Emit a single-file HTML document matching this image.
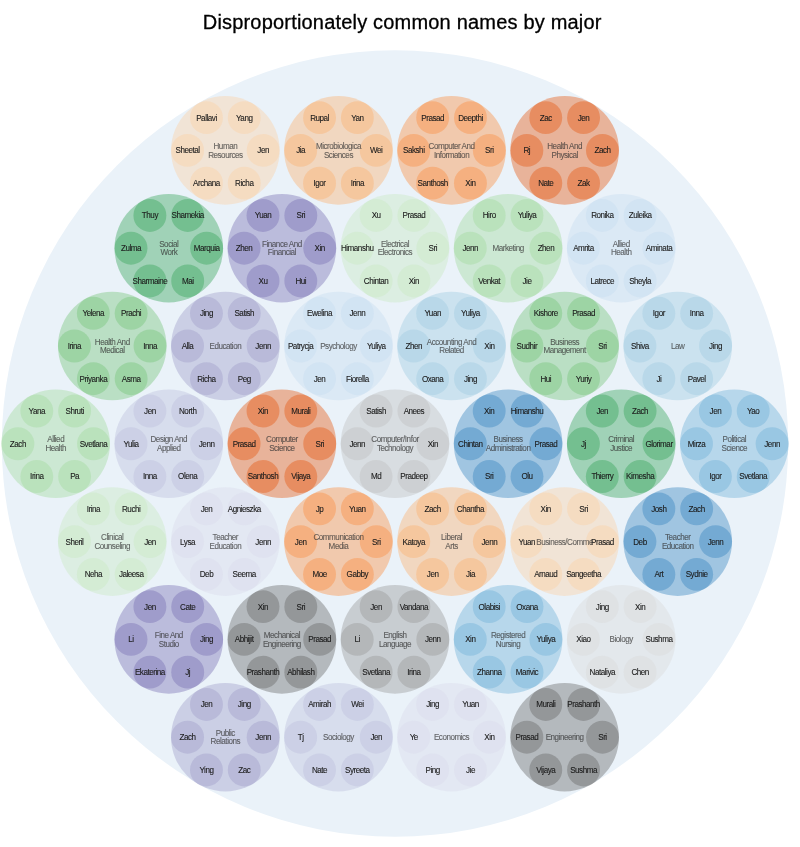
<!DOCTYPE html>
<html><head><meta charset="utf-8"><title>Disproportionately common names by major</title>
<style>
html,body{margin:0;padding:0;background:#fff;}
body{width:800px;height:847px;overflow:hidden;font-family:"Liberation Sans",sans-serif;}
svg{display:block;}
text{font-family:"Liberation Sans",sans-serif;text-anchor:middle;}
.t{font-size:20px;fill:#000;stroke:#000;stroke-width:.3px;letter-spacing:0.19px;}
.n{font-size:8.1px;fill:#1c1c1c;stroke:#1c1c1c;stroke-width:.1px;letter-spacing:-0.47px;}
.m{font-size:8.1px;fill:#333;fill-opacity:.72;stroke:#333;stroke-opacity:.5;stroke-width:.15px;letter-spacing:-0.47px;}
</style></head><body>
<svg width="800" height="847" viewBox="0 0 800 847">
<text class="t" x="402.2" y="29">Disproportionately common names by major</text>
<circle cx="395.0" cy="443.5" r="393.2" fill="#eaf2f9"/>
<g fill="#fdd0a2"><circle cx="225.35" cy="150.40" r="54.3" fill-opacity="0.4"/>
<circle cx="206.45" cy="117.66" r="16.45" fill-opacity="0.4"/>
<circle cx="244.25" cy="117.66" r="16.45" fill-opacity="0.4"/>
<circle cx="263.15" cy="150.40" r="16.45" fill-opacity="0.4"/>
<circle cx="244.25" cy="183.14" r="16.45" fill-opacity="0.4"/>
<circle cx="206.45" cy="183.14" r="16.45" fill-opacity="0.4"/>
<circle cx="187.55" cy="150.40" r="16.45" fill-opacity="0.4"/>
</g>
<g fill="#fdae6b"><circle cx="338.45" cy="150.40" r="54.3" fill-opacity="0.4"/>
<circle cx="319.55" cy="117.66" r="16.45" fill-opacity="0.4"/>
<circle cx="357.35" cy="117.66" r="16.45" fill-opacity="0.4"/>
<circle cx="376.25" cy="150.40" r="16.45" fill-opacity="0.4"/>
<circle cx="357.35" cy="183.14" r="16.45" fill-opacity="0.4"/>
<circle cx="319.55" cy="183.14" r="16.45" fill-opacity="0.4"/>
<circle cx="300.65" cy="150.40" r="16.45" fill-opacity="0.4"/>
</g>
<g fill="#fd8d3c"><circle cx="451.55" cy="150.40" r="54.3" fill-opacity="0.4"/>
<circle cx="432.65" cy="117.66" r="16.45" fill-opacity="0.4"/>
<circle cx="470.45" cy="117.66" r="16.45" fill-opacity="0.4"/>
<circle cx="489.35" cy="150.40" r="16.45" fill-opacity="0.4"/>
<circle cx="470.45" cy="183.14" r="16.45" fill-opacity="0.4"/>
<circle cx="432.65" cy="183.14" r="16.45" fill-opacity="0.4"/>
<circle cx="413.75" cy="150.40" r="16.45" fill-opacity="0.4"/>
</g>
<g fill="#e6550d"><circle cx="564.65" cy="150.40" r="54.3" fill-opacity="0.4"/>
<circle cx="545.75" cy="117.66" r="16.45" fill-opacity="0.4"/>
<circle cx="583.55" cy="117.66" r="16.45" fill-opacity="0.4"/>
<circle cx="602.45" cy="150.40" r="16.45" fill-opacity="0.4"/>
<circle cx="583.55" cy="183.14" r="16.45" fill-opacity="0.4"/>
<circle cx="545.75" cy="183.14" r="16.45" fill-opacity="0.4"/>
<circle cx="526.85" cy="150.40" r="16.45" fill-opacity="0.4"/>
</g>
<g fill="#31a354"><circle cx="168.80" cy="248.20" r="54.3" fill-opacity="0.4"/>
<circle cx="149.90" cy="215.46" r="16.45" fill-opacity="0.4"/>
<circle cx="187.70" cy="215.46" r="16.45" fill-opacity="0.4"/>
<circle cx="206.60" cy="248.20" r="16.45" fill-opacity="0.4"/>
<circle cx="187.70" cy="280.94" r="16.45" fill-opacity="0.4"/>
<circle cx="149.90" cy="280.94" r="16.45" fill-opacity="0.4"/>
<circle cx="131.00" cy="248.20" r="16.45" fill-opacity="0.4"/>
</g>
<g fill="#756bb1"><circle cx="281.90" cy="248.20" r="54.3" fill-opacity="0.4"/>
<circle cx="263.00" cy="215.46" r="16.45" fill-opacity="0.4"/>
<circle cx="300.80" cy="215.46" r="16.45" fill-opacity="0.4"/>
<circle cx="319.70" cy="248.20" r="16.45" fill-opacity="0.4"/>
<circle cx="300.80" cy="280.94" r="16.45" fill-opacity="0.4"/>
<circle cx="263.00" cy="280.94" r="16.45" fill-opacity="0.4"/>
<circle cx="244.10" cy="248.20" r="16.45" fill-opacity="0.4"/>
</g>
<g fill="#c7e9c0"><circle cx="395.00" cy="248.20" r="54.3" fill-opacity="0.4"/>
<circle cx="376.10" cy="215.46" r="16.45" fill-opacity="0.4"/>
<circle cx="413.90" cy="215.46" r="16.45" fill-opacity="0.4"/>
<circle cx="432.80" cy="248.20" r="16.45" fill-opacity="0.4"/>
<circle cx="413.90" cy="280.94" r="16.45" fill-opacity="0.4"/>
<circle cx="376.10" cy="280.94" r="16.45" fill-opacity="0.4"/>
<circle cx="357.20" cy="248.20" r="16.45" fill-opacity="0.4"/>
</g>
<g fill="#a1d99b"><circle cx="508.10" cy="248.20" r="54.3" fill-opacity="0.4"/>
<circle cx="489.20" cy="215.46" r="16.45" fill-opacity="0.4"/>
<circle cx="527.00" cy="215.46" r="16.45" fill-opacity="0.4"/>
<circle cx="545.90" cy="248.20" r="16.45" fill-opacity="0.4"/>
<circle cx="527.00" cy="280.94" r="16.45" fill-opacity="0.4"/>
<circle cx="489.20" cy="280.94" r="16.45" fill-opacity="0.4"/>
<circle cx="470.30" cy="248.20" r="16.45" fill-opacity="0.4"/>
</g>
<g fill="#c6dbef"><circle cx="621.20" cy="248.20" r="54.3" fill-opacity="0.4"/>
<circle cx="602.30" cy="215.46" r="16.45" fill-opacity="0.4"/>
<circle cx="640.10" cy="215.46" r="16.45" fill-opacity="0.4"/>
<circle cx="659.00" cy="248.20" r="16.45" fill-opacity="0.4"/>
<circle cx="640.10" cy="280.94" r="16.45" fill-opacity="0.4"/>
<circle cx="602.30" cy="280.94" r="16.45" fill-opacity="0.4"/>
<circle cx="583.40" cy="248.20" r="16.45" fill-opacity="0.4"/>
</g>
<g fill="#74c476"><circle cx="112.25" cy="346.00" r="54.3" fill-opacity="0.4"/>
<circle cx="93.35" cy="313.26" r="16.45" fill-opacity="0.4"/>
<circle cx="131.15" cy="313.26" r="16.45" fill-opacity="0.4"/>
<circle cx="150.05" cy="346.00" r="16.45" fill-opacity="0.4"/>
<circle cx="131.15" cy="378.74" r="16.45" fill-opacity="0.4"/>
<circle cx="93.35" cy="378.74" r="16.45" fill-opacity="0.4"/>
<circle cx="74.45" cy="346.00" r="16.45" fill-opacity="0.4"/>
</g>
<g fill="#9e9ac8"><circle cx="225.35" cy="346.00" r="54.3" fill-opacity="0.4"/>
<circle cx="206.45" cy="313.26" r="16.45" fill-opacity="0.4"/>
<circle cx="244.25" cy="313.26" r="16.45" fill-opacity="0.4"/>
<circle cx="263.15" cy="346.00" r="16.45" fill-opacity="0.4"/>
<circle cx="244.25" cy="378.74" r="16.45" fill-opacity="0.4"/>
<circle cx="206.45" cy="378.74" r="16.45" fill-opacity="0.4"/>
<circle cx="187.55" cy="346.00" r="16.45" fill-opacity="0.4"/>
</g>
<g fill="#c6dbef"><circle cx="338.45" cy="346.00" r="54.3" fill-opacity="0.4"/>
<circle cx="319.55" cy="313.26" r="16.45" fill-opacity="0.4"/>
<circle cx="357.35" cy="313.26" r="16.45" fill-opacity="0.4"/>
<circle cx="376.25" cy="346.00" r="16.45" fill-opacity="0.4"/>
<circle cx="357.35" cy="378.74" r="16.45" fill-opacity="0.4"/>
<circle cx="319.55" cy="378.74" r="16.45" fill-opacity="0.4"/>
<circle cx="300.65" cy="346.00" r="16.45" fill-opacity="0.4"/>
</g>
<g fill="#9ecae1"><circle cx="451.55" cy="346.00" r="54.3" fill-opacity="0.4"/>
<circle cx="432.65" cy="313.26" r="16.45" fill-opacity="0.4"/>
<circle cx="470.45" cy="313.26" r="16.45" fill-opacity="0.4"/>
<circle cx="489.35" cy="346.00" r="16.45" fill-opacity="0.4"/>
<circle cx="470.45" cy="378.74" r="16.45" fill-opacity="0.4"/>
<circle cx="432.65" cy="378.74" r="16.45" fill-opacity="0.4"/>
<circle cx="413.75" cy="346.00" r="16.45" fill-opacity="0.4"/>
</g>
<g fill="#74c476"><circle cx="564.65" cy="346.00" r="54.3" fill-opacity="0.4"/>
<circle cx="545.75" cy="313.26" r="16.45" fill-opacity="0.4"/>
<circle cx="583.55" cy="313.26" r="16.45" fill-opacity="0.4"/>
<circle cx="602.45" cy="346.00" r="16.45" fill-opacity="0.4"/>
<circle cx="583.55" cy="378.74" r="16.45" fill-opacity="0.4"/>
<circle cx="545.75" cy="378.74" r="16.45" fill-opacity="0.4"/>
<circle cx="526.85" cy="346.00" r="16.45" fill-opacity="0.4"/>
</g>
<g fill="#9ecae1"><circle cx="677.75" cy="346.00" r="54.3" fill-opacity="0.4"/>
<circle cx="658.85" cy="313.26" r="16.45" fill-opacity="0.4"/>
<circle cx="696.65" cy="313.26" r="16.45" fill-opacity="0.4"/>
<circle cx="715.55" cy="346.00" r="16.45" fill-opacity="0.4"/>
<circle cx="696.65" cy="378.74" r="16.45" fill-opacity="0.4"/>
<circle cx="658.85" cy="378.74" r="16.45" fill-opacity="0.4"/>
<circle cx="639.95" cy="346.00" r="16.45" fill-opacity="0.4"/>
</g>
<g fill="#a1d99b"><circle cx="55.70" cy="443.80" r="54.3" fill-opacity="0.4"/>
<circle cx="36.80" cy="411.06" r="16.45" fill-opacity="0.4"/>
<circle cx="74.60" cy="411.06" r="16.45" fill-opacity="0.4"/>
<circle cx="93.50" cy="443.80" r="16.45" fill-opacity="0.4"/>
<circle cx="74.60" cy="476.54" r="16.45" fill-opacity="0.4"/>
<circle cx="36.80" cy="476.54" r="16.45" fill-opacity="0.4"/>
<circle cx="17.90" cy="443.80" r="16.45" fill-opacity="0.4"/>
</g>
<g fill="#bcbddc"><circle cx="168.80" cy="443.80" r="54.3" fill-opacity="0.4"/>
<circle cx="149.90" cy="411.06" r="16.45" fill-opacity="0.4"/>
<circle cx="187.70" cy="411.06" r="16.45" fill-opacity="0.4"/>
<circle cx="206.60" cy="443.80" r="16.45" fill-opacity="0.4"/>
<circle cx="187.70" cy="476.54" r="16.45" fill-opacity="0.4"/>
<circle cx="149.90" cy="476.54" r="16.45" fill-opacity="0.4"/>
<circle cx="131.00" cy="443.80" r="16.45" fill-opacity="0.4"/>
</g>
<g fill="#e6550d"><circle cx="281.90" cy="443.80" r="54.3" fill-opacity="0.4"/>
<circle cx="263.00" cy="411.06" r="16.45" fill-opacity="0.4"/>
<circle cx="300.80" cy="411.06" r="16.45" fill-opacity="0.4"/>
<circle cx="319.70" cy="443.80" r="16.45" fill-opacity="0.4"/>
<circle cx="300.80" cy="476.54" r="16.45" fill-opacity="0.4"/>
<circle cx="263.00" cy="476.54" r="16.45" fill-opacity="0.4"/>
<circle cx="244.10" cy="443.80" r="16.45" fill-opacity="0.4"/>
</g>
<g fill="#bdbdbd"><circle cx="395.00" cy="443.80" r="54.3" fill-opacity="0.4"/>
<circle cx="376.10" cy="411.06" r="16.45" fill-opacity="0.4"/>
<circle cx="413.90" cy="411.06" r="16.45" fill-opacity="0.4"/>
<circle cx="432.80" cy="443.80" r="16.45" fill-opacity="0.4"/>
<circle cx="413.90" cy="476.54" r="16.45" fill-opacity="0.4"/>
<circle cx="376.10" cy="476.54" r="16.45" fill-opacity="0.4"/>
<circle cx="357.20" cy="443.80" r="16.45" fill-opacity="0.4"/>
</g>
<g fill="#3182bd"><circle cx="508.10" cy="443.80" r="54.3" fill-opacity="0.4"/>
<circle cx="489.20" cy="411.06" r="16.45" fill-opacity="0.4"/>
<circle cx="527.00" cy="411.06" r="16.45" fill-opacity="0.4"/>
<circle cx="545.90" cy="443.80" r="16.45" fill-opacity="0.4"/>
<circle cx="527.00" cy="476.54" r="16.45" fill-opacity="0.4"/>
<circle cx="489.20" cy="476.54" r="16.45" fill-opacity="0.4"/>
<circle cx="470.30" cy="443.80" r="16.45" fill-opacity="0.4"/>
</g>
<g fill="#31a354"><circle cx="621.20" cy="443.80" r="54.3" fill-opacity="0.4"/>
<circle cx="602.30" cy="411.06" r="16.45" fill-opacity="0.4"/>
<circle cx="640.10" cy="411.06" r="16.45" fill-opacity="0.4"/>
<circle cx="659.00" cy="443.80" r="16.45" fill-opacity="0.4"/>
<circle cx="640.10" cy="476.54" r="16.45" fill-opacity="0.4"/>
<circle cx="602.30" cy="476.54" r="16.45" fill-opacity="0.4"/>
<circle cx="583.40" cy="443.80" r="16.45" fill-opacity="0.4"/>
</g>
<g fill="#6baed6"><circle cx="734.30" cy="443.80" r="54.3" fill-opacity="0.4"/>
<circle cx="715.40" cy="411.06" r="16.45" fill-opacity="0.4"/>
<circle cx="753.20" cy="411.06" r="16.45" fill-opacity="0.4"/>
<circle cx="772.10" cy="443.80" r="16.45" fill-opacity="0.4"/>
<circle cx="753.20" cy="476.54" r="16.45" fill-opacity="0.4"/>
<circle cx="715.40" cy="476.54" r="16.45" fill-opacity="0.4"/>
<circle cx="696.50" cy="443.80" r="16.45" fill-opacity="0.4"/>
</g>
<g fill="#c7e9c0"><circle cx="112.25" cy="541.60" r="54.3" fill-opacity="0.4"/>
<circle cx="93.35" cy="508.86" r="16.45" fill-opacity="0.4"/>
<circle cx="131.15" cy="508.86" r="16.45" fill-opacity="0.4"/>
<circle cx="150.05" cy="541.60" r="16.45" fill-opacity="0.4"/>
<circle cx="131.15" cy="574.34" r="16.45" fill-opacity="0.4"/>
<circle cx="93.35" cy="574.34" r="16.45" fill-opacity="0.4"/>
<circle cx="74.45" cy="541.60" r="16.45" fill-opacity="0.4"/>
</g>
<g fill="#dadaeb"><circle cx="225.35" cy="541.60" r="54.3" fill-opacity="0.4"/>
<circle cx="206.45" cy="508.86" r="16.45" fill-opacity="0.4"/>
<circle cx="244.25" cy="508.86" r="16.45" fill-opacity="0.4"/>
<circle cx="263.15" cy="541.60" r="16.45" fill-opacity="0.4"/>
<circle cx="244.25" cy="574.34" r="16.45" fill-opacity="0.4"/>
<circle cx="206.45" cy="574.34" r="16.45" fill-opacity="0.4"/>
<circle cx="187.55" cy="541.60" r="16.45" fill-opacity="0.4"/>
</g>
<g fill="#fd8d3c"><circle cx="338.45" cy="541.60" r="54.3" fill-opacity="0.4"/>
<circle cx="319.55" cy="508.86" r="16.45" fill-opacity="0.4"/>
<circle cx="357.35" cy="508.86" r="16.45" fill-opacity="0.4"/>
<circle cx="376.25" cy="541.60" r="16.45" fill-opacity="0.4"/>
<circle cx="357.35" cy="574.34" r="16.45" fill-opacity="0.4"/>
<circle cx="319.55" cy="574.34" r="16.45" fill-opacity="0.4"/>
<circle cx="300.65" cy="541.60" r="16.45" fill-opacity="0.4"/>
</g>
<g fill="#fdae6b"><circle cx="451.55" cy="541.60" r="54.3" fill-opacity="0.4"/>
<circle cx="432.65" cy="508.86" r="16.45" fill-opacity="0.4"/>
<circle cx="470.45" cy="508.86" r="16.45" fill-opacity="0.4"/>
<circle cx="489.35" cy="541.60" r="16.45" fill-opacity="0.4"/>
<circle cx="470.45" cy="574.34" r="16.45" fill-opacity="0.4"/>
<circle cx="432.65" cy="574.34" r="16.45" fill-opacity="0.4"/>
<circle cx="413.75" cy="541.60" r="16.45" fill-opacity="0.4"/>
</g>
<g fill="#fdd0a2"><circle cx="564.65" cy="541.60" r="54.3" fill-opacity="0.4"/>
<circle cx="545.75" cy="508.86" r="16.45" fill-opacity="0.4"/>
<circle cx="583.55" cy="508.86" r="16.45" fill-opacity="0.4"/>
<circle cx="602.45" cy="541.60" r="16.45" fill-opacity="0.4"/>
<circle cx="583.55" cy="574.34" r="16.45" fill-opacity="0.4"/>
<circle cx="545.75" cy="574.34" r="16.45" fill-opacity="0.4"/>
<circle cx="526.85" cy="541.60" r="16.45" fill-opacity="0.4"/>
</g>
<g fill="#3182bd"><circle cx="677.75" cy="541.60" r="54.3" fill-opacity="0.4"/>
<circle cx="658.85" cy="508.86" r="16.45" fill-opacity="0.4"/>
<circle cx="696.65" cy="508.86" r="16.45" fill-opacity="0.4"/>
<circle cx="715.55" cy="541.60" r="16.45" fill-opacity="0.4"/>
<circle cx="696.65" cy="574.34" r="16.45" fill-opacity="0.4"/>
<circle cx="658.85" cy="574.34" r="16.45" fill-opacity="0.4"/>
<circle cx="639.95" cy="541.60" r="16.45" fill-opacity="0.4"/>
</g>
<g fill="#756bb1"><circle cx="168.80" cy="639.40" r="54.3" fill-opacity="0.4"/>
<circle cx="149.90" cy="606.66" r="16.45" fill-opacity="0.4"/>
<circle cx="187.70" cy="606.66" r="16.45" fill-opacity="0.4"/>
<circle cx="206.60" cy="639.40" r="16.45" fill-opacity="0.4"/>
<circle cx="187.70" cy="672.14" r="16.45" fill-opacity="0.4"/>
<circle cx="149.90" cy="672.14" r="16.45" fill-opacity="0.4"/>
<circle cx="131.00" cy="639.40" r="16.45" fill-opacity="0.4"/>
</g>
<g fill="#636363"><circle cx="281.90" cy="639.40" r="54.3" fill-opacity="0.4"/>
<circle cx="263.00" cy="606.66" r="16.45" fill-opacity="0.4"/>
<circle cx="300.80" cy="606.66" r="16.45" fill-opacity="0.4"/>
<circle cx="319.70" cy="639.40" r="16.45" fill-opacity="0.4"/>
<circle cx="300.80" cy="672.14" r="16.45" fill-opacity="0.4"/>
<circle cx="263.00" cy="672.14" r="16.45" fill-opacity="0.4"/>
<circle cx="244.10" cy="639.40" r="16.45" fill-opacity="0.4"/>
</g>
<g fill="#969696"><circle cx="395.00" cy="639.40" r="54.3" fill-opacity="0.4"/>
<circle cx="376.10" cy="606.66" r="16.45" fill-opacity="0.4"/>
<circle cx="413.90" cy="606.66" r="16.45" fill-opacity="0.4"/>
<circle cx="432.80" cy="639.40" r="16.45" fill-opacity="0.4"/>
<circle cx="413.90" cy="672.14" r="16.45" fill-opacity="0.4"/>
<circle cx="376.10" cy="672.14" r="16.45" fill-opacity="0.4"/>
<circle cx="357.20" cy="639.40" r="16.45" fill-opacity="0.4"/>
</g>
<g fill="#6baed6"><circle cx="508.10" cy="639.40" r="54.3" fill-opacity="0.4"/>
<circle cx="489.20" cy="606.66" r="16.45" fill-opacity="0.4"/>
<circle cx="527.00" cy="606.66" r="16.45" fill-opacity="0.4"/>
<circle cx="545.90" cy="639.40" r="16.45" fill-opacity="0.4"/>
<circle cx="527.00" cy="672.14" r="16.45" fill-opacity="0.4"/>
<circle cx="489.20" cy="672.14" r="16.45" fill-opacity="0.4"/>
<circle cx="470.30" cy="639.40" r="16.45" fill-opacity="0.4"/>
</g>
<g fill="#d9d9d9"><circle cx="621.20" cy="639.40" r="54.3" fill-opacity="0.4"/>
<circle cx="602.30" cy="606.66" r="16.45" fill-opacity="0.4"/>
<circle cx="640.10" cy="606.66" r="16.45" fill-opacity="0.4"/>
<circle cx="659.00" cy="639.40" r="16.45" fill-opacity="0.4"/>
<circle cx="640.10" cy="672.14" r="16.45" fill-opacity="0.4"/>
<circle cx="602.30" cy="672.14" r="16.45" fill-opacity="0.4"/>
<circle cx="583.40" cy="639.40" r="16.45" fill-opacity="0.4"/>
</g>
<g fill="#9e9ac8"><circle cx="225.35" cy="737.20" r="54.3" fill-opacity="0.4"/>
<circle cx="206.45" cy="704.46" r="16.45" fill-opacity="0.4"/>
<circle cx="244.25" cy="704.46" r="16.45" fill-opacity="0.4"/>
<circle cx="263.15" cy="737.20" r="16.45" fill-opacity="0.4"/>
<circle cx="244.25" cy="769.94" r="16.45" fill-opacity="0.4"/>
<circle cx="206.45" cy="769.94" r="16.45" fill-opacity="0.4"/>
<circle cx="187.55" cy="737.20" r="16.45" fill-opacity="0.4"/>
</g>
<g fill="#bcbddc"><circle cx="338.45" cy="737.20" r="54.3" fill-opacity="0.4"/>
<circle cx="319.55" cy="704.46" r="16.45" fill-opacity="0.4"/>
<circle cx="357.35" cy="704.46" r="16.45" fill-opacity="0.4"/>
<circle cx="376.25" cy="737.20" r="16.45" fill-opacity="0.4"/>
<circle cx="357.35" cy="769.94" r="16.45" fill-opacity="0.4"/>
<circle cx="319.55" cy="769.94" r="16.45" fill-opacity="0.4"/>
<circle cx="300.65" cy="737.20" r="16.45" fill-opacity="0.4"/>
</g>
<g fill="#dadaeb"><circle cx="451.55" cy="737.20" r="54.3" fill-opacity="0.4"/>
<circle cx="432.65" cy="704.46" r="16.45" fill-opacity="0.4"/>
<circle cx="470.45" cy="704.46" r="16.45" fill-opacity="0.4"/>
<circle cx="489.35" cy="737.20" r="16.45" fill-opacity="0.4"/>
<circle cx="470.45" cy="769.94" r="16.45" fill-opacity="0.4"/>
<circle cx="432.65" cy="769.94" r="16.45" fill-opacity="0.4"/>
<circle cx="413.75" cy="737.20" r="16.45" fill-opacity="0.4"/>
</g>
<g fill="#636363"><circle cx="564.65" cy="737.20" r="54.3" fill-opacity="0.4"/>
<circle cx="545.75" cy="704.46" r="16.45" fill-opacity="0.4"/>
<circle cx="583.55" cy="704.46" r="16.45" fill-opacity="0.4"/>
<circle cx="602.45" cy="737.20" r="16.45" fill-opacity="0.4"/>
<circle cx="583.55" cy="769.94" r="16.45" fill-opacity="0.4"/>
<circle cx="545.75" cy="769.94" r="16.45" fill-opacity="0.4"/>
<circle cx="526.85" cy="737.20" r="16.45" fill-opacity="0.4"/>
</g>
<text class="n" transform="translate(206.45 120.56) scale(1.0 1.12)">Pallavi</text>
<text class="n" transform="translate(244.25 120.56) scale(1.0 1.12)">Yang</text>
<text class="n" transform="translate(263.15 153.30) scale(1.0 1.12)">Jen</text>
<text class="n" transform="translate(244.25 186.04) scale(1.0 1.12)">Richa</text>
<text class="n" transform="translate(206.45 186.04) scale(1.0 1.12)">Archana</text>
<text class="n" transform="translate(187.55 153.30) scale(1.0 1.12)">Sheetal</text>
<text class="m" transform="translate(225.35 149.05) scale(1.0 1.12)">Human</text>
<text class="m" transform="translate(225.35 157.55) scale(1.0 1.12)">Resources</text>
<text class="n" transform="translate(319.55 120.56) scale(1.0 1.12)">Rupal</text>
<text class="n" transform="translate(357.35 120.56) scale(1.0 1.12)">Yan</text>
<text class="n" transform="translate(376.25 153.30) scale(1.0 1.12)">Wei</text>
<text class="n" transform="translate(357.35 186.04) scale(1.0 1.12)">Irina</text>
<text class="n" transform="translate(319.55 186.04) scale(1.0 1.12)">Igor</text>
<text class="n" transform="translate(300.65 153.30) scale(1.0 1.12)">Jia</text>
<text class="m" transform="translate(338.45 149.05) scale(1.0 1.12)">Microbiologica</text>
<text class="m" transform="translate(338.45 157.55) scale(1.0 1.12)">Sciences</text>
<text class="n" transform="translate(432.65 120.56) scale(1.0 1.12)">Prasad</text>
<text class="n" transform="translate(470.45 120.56) scale(1.0 1.12)">Deepthi</text>
<text class="n" transform="translate(489.35 153.30) scale(1.0 1.12)">Sri</text>
<text class="n" transform="translate(470.45 186.04) scale(1.0 1.12)">Xin</text>
<text class="n" transform="translate(432.65 186.04) scale(1.0 1.12)">Santhosh</text>
<text class="n" transform="translate(413.75 153.30) scale(1.0 1.12)">Sakshi</text>
<text class="m" transform="translate(451.55 149.05) scale(1.0 1.12)">Computer And</text>
<text class="m" transform="translate(451.55 157.55) scale(1.0 1.12)">Information</text>
<text class="n" transform="translate(545.75 120.56) scale(1.0 1.12)">Zac</text>
<text class="n" transform="translate(583.55 120.56) scale(1.0 1.12)">Jen</text>
<text class="n" transform="translate(602.45 153.30) scale(1.0 1.12)">Zach</text>
<text class="n" transform="translate(583.55 186.04) scale(1.0 1.12)">Zak</text>
<text class="n" transform="translate(545.75 186.04) scale(1.0 1.12)">Nate</text>
<text class="n" transform="translate(526.85 153.30) scale(1.0 1.12)">Rj</text>
<text class="m" transform="translate(564.65 149.05) scale(1.0 1.12)">Health And</text>
<text class="m" transform="translate(564.65 157.55) scale(1.0 1.12)">Physical</text>
<text class="n" transform="translate(149.90 218.36) scale(1.0 1.12)">Thuy</text>
<text class="n" transform="translate(187.70 218.36) scale(1.0 1.12)">Shamekia</text>
<text class="n" transform="translate(206.60 251.10) scale(1.0 1.12)">Marquia</text>
<text class="n" transform="translate(187.70 283.84) scale(1.0 1.12)">Mai</text>
<text class="n" transform="translate(149.90 283.84) scale(1.0 1.12)">Sharmaine</text>
<text class="n" transform="translate(131.00 251.10) scale(1.0 1.12)">Zulma</text>
<text class="m" transform="translate(168.80 246.85) scale(1.0 1.12)">Social</text>
<text class="m" transform="translate(168.80 255.35) scale(1.0 1.12)">Work</text>
<text class="n" transform="translate(263.00 218.36) scale(1.0 1.12)">Yuan</text>
<text class="n" transform="translate(300.80 218.36) scale(1.0 1.12)">Sri</text>
<text class="n" transform="translate(319.70 251.10) scale(1.0 1.12)">Xin</text>
<text class="n" transform="translate(300.80 283.84) scale(1.0 1.12)">Hui</text>
<text class="n" transform="translate(263.00 283.84) scale(1.0 1.12)">Xu</text>
<text class="n" transform="translate(244.10 251.10) scale(1.0 1.12)">Zhen</text>
<text class="m" transform="translate(281.90 246.85) scale(1.0 1.12)">Finance And</text>
<text class="m" transform="translate(281.90 255.35) scale(1.0 1.12)">Financial</text>
<text class="n" transform="translate(376.10 218.36) scale(1.0 1.12)">Xu</text>
<text class="n" transform="translate(413.90 218.36) scale(1.0 1.12)">Prasad</text>
<text class="n" transform="translate(432.80 251.10) scale(1.0 1.12)">Sri</text>
<text class="n" transform="translate(413.90 283.84) scale(1.0 1.12)">Xin</text>
<text class="n" transform="translate(376.10 283.84) scale(1.0 1.12)">Chintan</text>
<text class="n" transform="translate(357.20 251.10) scale(1.0 1.12)">Himanshu</text>
<text class="m" transform="translate(395.00 246.85) scale(1.0 1.12)">Electrical</text>
<text class="m" transform="translate(395.00 255.35) scale(1.0 1.12)">Electronics</text>
<text class="n" transform="translate(489.20 218.36) scale(1.0 1.12)">Hiro</text>
<text class="n" transform="translate(527.00 218.36) scale(1.0 1.12)">Yuliya</text>
<text class="n" transform="translate(545.90 251.10) scale(1.0 1.12)">Zhen</text>
<text class="n" transform="translate(527.00 283.84) scale(1.0 1.12)">Jie</text>
<text class="n" transform="translate(489.20 283.84) scale(1.0 1.12)">Venkat</text>
<text class="n" transform="translate(470.30 251.10) scale(1.0 1.12)">Jenn</text>
<text class="m" transform="translate(508.10 251.10) scale(1.0 1.12)">Marketing</text>
<text class="n" transform="translate(602.30 218.36) scale(1.0 1.12)">Ronika</text>
<text class="n" transform="translate(640.10 218.36) scale(1.0 1.12)">Zuleika</text>
<text class="n" transform="translate(659.00 251.10) scale(1.0 1.12)">Aminata</text>
<text class="n" transform="translate(640.10 283.84) scale(1.0 1.12)">Sheyla</text>
<text class="n" transform="translate(602.30 283.84) scale(1.0 1.12)">Latrece</text>
<text class="n" transform="translate(583.40 251.10) scale(1.0 1.12)">Amrita</text>
<text class="m" transform="translate(621.20 246.85) scale(1.0 1.12)">Allied</text>
<text class="m" transform="translate(621.20 255.35) scale(1.0 1.12)">Health</text>
<text class="n" transform="translate(93.35 316.16) scale(1.0 1.12)">Yelena</text>
<text class="n" transform="translate(131.15 316.16) scale(1.0 1.12)">Prachi</text>
<text class="n" transform="translate(150.05 348.90) scale(1.0 1.12)">Inna</text>
<text class="n" transform="translate(131.15 381.64) scale(1.0 1.12)">Asma</text>
<text class="n" transform="translate(93.35 381.64) scale(1.0 1.12)">Priyanka</text>
<text class="n" transform="translate(74.45 348.90) scale(1.0 1.12)">Irina</text>
<text class="m" transform="translate(112.25 344.65) scale(1.0 1.12)">Health And</text>
<text class="m" transform="translate(112.25 353.15) scale(1.0 1.12)">Medical</text>
<text class="n" transform="translate(206.45 316.16) scale(1.0 1.12)">Jing</text>
<text class="n" transform="translate(244.25 316.16) scale(1.0 1.12)">Satish</text>
<text class="n" transform="translate(263.15 348.90) scale(1.0 1.12)">Jenn</text>
<text class="n" transform="translate(244.25 381.64) scale(1.0 1.12)">Peg</text>
<text class="n" transform="translate(206.45 381.64) scale(1.0 1.12)">Richa</text>
<text class="n" transform="translate(187.55 348.90) scale(1.0 1.12)">Alla</text>
<text class="m" transform="translate(225.35 348.90) scale(1.0 1.12)">Education</text>
<text class="n" transform="translate(319.55 316.16) scale(1.0 1.12)">Ewelina</text>
<text class="n" transform="translate(357.35 316.16) scale(1.0 1.12)">Jenn</text>
<text class="n" transform="translate(376.25 348.90) scale(1.0 1.12)">Yuliya</text>
<text class="n" transform="translate(357.35 381.64) scale(1.0 1.12)">Fiorella</text>
<text class="n" transform="translate(319.55 381.64) scale(1.0 1.12)">Jen</text>
<text class="n" transform="translate(300.65 348.90) scale(1.0 1.12)">Patrycja</text>
<text class="m" transform="translate(338.45 348.90) scale(1.0 1.12)">Psychology</text>
<text class="n" transform="translate(432.65 316.16) scale(1.0 1.12)">Yuan</text>
<text class="n" transform="translate(470.45 316.16) scale(1.0 1.12)">Yuliya</text>
<text class="n" transform="translate(489.35 348.90) scale(1.0 1.12)">Xin</text>
<text class="n" transform="translate(470.45 381.64) scale(1.0 1.12)">Jing</text>
<text class="n" transform="translate(432.65 381.64) scale(1.0 1.12)">Oxana</text>
<text class="n" transform="translate(413.75 348.90) scale(1.0 1.12)">Zhen</text>
<text class="m" transform="translate(451.55 344.65) scale(1.0 1.12)">Accounting And</text>
<text class="m" transform="translate(451.55 353.15) scale(1.0 1.12)">Related</text>
<text class="n" transform="translate(545.75 316.16) scale(1.0 1.12)">Kishore</text>
<text class="n" transform="translate(583.55 316.16) scale(1.0 1.12)">Prasad</text>
<text class="n" transform="translate(602.45 348.90) scale(1.0 1.12)">Sri</text>
<text class="n" transform="translate(583.55 381.64) scale(1.0 1.12)">Yuriy</text>
<text class="n" transform="translate(545.75 381.64) scale(1.0 1.12)">Hui</text>
<text class="n" transform="translate(526.85 348.90) scale(1.0 1.12)">Sudhir</text>
<text class="m" transform="translate(564.65 344.65) scale(1.0 1.12)">Business</text>
<text class="m" transform="translate(564.65 353.15) scale(1.0 1.12)">Management</text>
<text class="n" transform="translate(658.85 316.16) scale(1.0 1.12)">Igor</text>
<text class="n" transform="translate(696.65 316.16) scale(1.0 1.12)">Inna</text>
<text class="n" transform="translate(715.55 348.90) scale(1.0 1.12)">Jing</text>
<text class="n" transform="translate(696.65 381.64) scale(1.0 1.12)">Pavel</text>
<text class="n" transform="translate(658.85 381.64) scale(1.0 1.12)">Ji</text>
<text class="n" transform="translate(639.95 348.90) scale(1.0 1.12)">Shiva</text>
<text class="m" transform="translate(677.75 348.90) scale(1.0 1.12)">Law</text>
<text class="n" transform="translate(36.80 413.96) scale(1.0 1.12)">Yana</text>
<text class="n" transform="translate(74.60 413.96) scale(1.0 1.12)">Shruti</text>
<text class="n" transform="translate(93.50 446.70) scale(1.0 1.12)">Svetlana</text>
<text class="n" transform="translate(74.60 479.44) scale(1.0 1.12)">Pa</text>
<text class="n" transform="translate(36.80 479.44) scale(1.0 1.12)">Irina</text>
<text class="n" transform="translate(17.90 446.70) scale(1.0 1.12)">Zach</text>
<text class="m" transform="translate(55.70 442.45) scale(1.0 1.12)">Allied</text>
<text class="m" transform="translate(55.70 450.95) scale(1.0 1.12)">Health</text>
<text class="n" transform="translate(149.90 413.96) scale(1.0 1.12)">Jen</text>
<text class="n" transform="translate(187.70 413.96) scale(1.0 1.12)">North</text>
<text class="n" transform="translate(206.60 446.70) scale(1.0 1.12)">Jenn</text>
<text class="n" transform="translate(187.70 479.44) scale(1.0 1.12)">Olena</text>
<text class="n" transform="translate(149.90 479.44) scale(1.0 1.12)">Inna</text>
<text class="n" transform="translate(131.00 446.70) scale(1.0 1.12)">Yulia</text>
<text class="m" transform="translate(168.80 442.45) scale(1.0 1.12)">Design And</text>
<text class="m" transform="translate(168.80 450.95) scale(1.0 1.12)">Applied</text>
<text class="n" transform="translate(263.00 413.96) scale(1.0 1.12)">Xin</text>
<text class="n" transform="translate(300.80 413.96) scale(1.0 1.12)">Murali</text>
<text class="n" transform="translate(319.70 446.70) scale(1.0 1.12)">Sri</text>
<text class="n" transform="translate(300.80 479.44) scale(1.0 1.12)">Vijaya</text>
<text class="n" transform="translate(263.00 479.44) scale(1.0 1.12)">Santhosh</text>
<text class="n" transform="translate(244.10 446.70) scale(1.0 1.12)">Prasad</text>
<text class="m" transform="translate(281.90 442.45) scale(1.0 1.12)">Computer</text>
<text class="m" transform="translate(281.90 450.95) scale(1.0 1.12)">Science</text>
<text class="n" transform="translate(376.10 413.96) scale(1.0 1.12)">Satish</text>
<text class="n" transform="translate(413.90 413.96) scale(1.0 1.12)">Anees</text>
<text class="n" transform="translate(432.80 446.70) scale(1.0 1.12)">Xin</text>
<text class="n" transform="translate(413.90 479.44) scale(1.0 1.12)">Pradeep</text>
<text class="n" transform="translate(376.10 479.44) scale(1.0 1.12)">Md</text>
<text class="n" transform="translate(357.20 446.70) scale(1.0 1.12)">Jenn</text>
<text class="m" transform="translate(395.00 442.45) scale(1.0 1.12)">Computer/Infor</text>
<text class="m" transform="translate(395.00 450.95) scale(1.0 1.12)">Technology</text>
<text class="n" transform="translate(489.20 413.96) scale(1.0 1.12)">Xin</text>
<text class="n" transform="translate(527.00 413.96) scale(1.0 1.12)">Himanshu</text>
<text class="n" transform="translate(545.90 446.70) scale(1.0 1.12)">Prasad</text>
<text class="n" transform="translate(527.00 479.44) scale(1.0 1.12)">Olu</text>
<text class="n" transform="translate(489.20 479.44) scale(1.0 1.12)">Sri</text>
<text class="n" transform="translate(470.30 446.70) scale(1.0 1.12)">Chintan</text>
<text class="m" transform="translate(508.10 442.45) scale(1.0 1.12)">Business</text>
<text class="m" transform="translate(508.10 450.95) scale(1.0 1.12)">Administration</text>
<text class="n" transform="translate(602.30 413.96) scale(1.0 1.12)">Jen</text>
<text class="n" transform="translate(640.10 413.96) scale(1.0 1.12)">Zach</text>
<text class="n" transform="translate(659.00 446.70) scale(1.0 1.12)">Glorimar</text>
<text class="n" transform="translate(640.10 479.44) scale(1.0 1.12)">Kimesha</text>
<text class="n" transform="translate(602.30 479.44) scale(1.0 1.12)">Thierry</text>
<text class="n" transform="translate(583.40 446.70) scale(1.0 1.12)">Jj</text>
<text class="m" transform="translate(621.20 442.45) scale(1.0 1.12)">Criminal</text>
<text class="m" transform="translate(621.20 450.95) scale(1.0 1.12)">Justice</text>
<text class="n" transform="translate(715.40 413.96) scale(1.0 1.12)">Jen</text>
<text class="n" transform="translate(753.20 413.96) scale(1.0 1.12)">Yao</text>
<text class="n" transform="translate(772.10 446.70) scale(1.0 1.12)">Jenn</text>
<text class="n" transform="translate(753.20 479.44) scale(1.0 1.12)">Svetlana</text>
<text class="n" transform="translate(715.40 479.44) scale(1.0 1.12)">Igor</text>
<text class="n" transform="translate(696.50 446.70) scale(1.0 1.12)">Mirza</text>
<text class="m" transform="translate(734.30 442.45) scale(1.0 1.12)">Political</text>
<text class="m" transform="translate(734.30 450.95) scale(1.0 1.12)">Science</text>
<text class="n" transform="translate(93.35 511.76) scale(1.0 1.12)">Irina</text>
<text class="n" transform="translate(131.15 511.76) scale(1.0 1.12)">Ruchi</text>
<text class="n" transform="translate(150.05 544.50) scale(1.0 1.12)">Jen</text>
<text class="n" transform="translate(131.15 577.24) scale(1.0 1.12)">Jaleesa</text>
<text class="n" transform="translate(93.35 577.24) scale(1.0 1.12)">Neha</text>
<text class="n" transform="translate(74.45 544.50) scale(1.0 1.12)">Sheril</text>
<text class="m" transform="translate(112.25 540.25) scale(1.0 1.12)">Clinical</text>
<text class="m" transform="translate(112.25 548.75) scale(1.0 1.12)">Counseling</text>
<text class="n" transform="translate(206.45 511.76) scale(1.0 1.12)">Jen</text>
<text class="n" transform="translate(244.25 511.76) scale(1.0 1.12)">Agnieszka</text>
<text class="n" transform="translate(263.15 544.50) scale(1.0 1.12)">Jenn</text>
<text class="n" transform="translate(244.25 577.24) scale(1.0 1.12)">Seema</text>
<text class="n" transform="translate(206.45 577.24) scale(1.0 1.12)">Deb</text>
<text class="n" transform="translate(187.55 544.50) scale(1.0 1.12)">Lysa</text>
<text class="m" transform="translate(225.35 540.25) scale(1.0 1.12)">Teacher</text>
<text class="m" transform="translate(225.35 548.75) scale(1.0 1.12)">Education</text>
<text class="n" transform="translate(319.55 511.76) scale(1.0 1.12)">Jp</text>
<text class="n" transform="translate(357.35 511.76) scale(1.0 1.12)">Yuan</text>
<text class="n" transform="translate(376.25 544.50) scale(1.0 1.12)">Sri</text>
<text class="n" transform="translate(357.35 577.24) scale(1.0 1.12)">Gabby</text>
<text class="n" transform="translate(319.55 577.24) scale(1.0 1.12)">Moe</text>
<text class="n" transform="translate(300.65 544.50) scale(1.0 1.12)">Jen</text>
<text class="m" transform="translate(338.45 540.25) scale(1.0 1.12)">Communication</text>
<text class="m" transform="translate(338.45 548.75) scale(1.0 1.12)">Media</text>
<text class="n" transform="translate(432.65 511.76) scale(1.0 1.12)">Zach</text>
<text class="n" transform="translate(470.45 511.76) scale(1.0 1.12)">Chantha</text>
<text class="n" transform="translate(489.35 544.50) scale(1.0 1.12)">Jenn</text>
<text class="n" transform="translate(470.45 577.24) scale(1.0 1.12)">Jia</text>
<text class="n" transform="translate(432.65 577.24) scale(1.0 1.12)">Jen</text>
<text class="n" transform="translate(413.75 544.50) scale(1.0 1.12)">Katoya</text>
<text class="m" transform="translate(451.55 540.25) scale(1.0 1.12)">Liberal</text>
<text class="m" transform="translate(451.55 548.75) scale(1.0 1.12)">Arts</text>
<text class="n" transform="translate(545.75 511.76) scale(1.0 1.12)">Xin</text>
<text class="n" transform="translate(583.55 511.76) scale(1.0 1.12)">Sri</text>
<text class="n" transform="translate(602.45 544.50) scale(1.0 1.12)">Prasad</text>
<text class="n" transform="translate(583.55 577.24) scale(1.0 1.12)">Sangeetha</text>
<text class="n" transform="translate(545.75 577.24) scale(1.0 1.12)">Arnaud</text>
<text class="n" transform="translate(526.85 544.50) scale(1.0 1.12)">Yuan</text>
<text class="m" transform="translate(564.65 544.50) scale(1.0 1.12)">Business/Comme</text>
<text class="n" transform="translate(658.85 511.76) scale(1.0 1.12)">Josh</text>
<text class="n" transform="translate(696.65 511.76) scale(1.0 1.12)">Zach</text>
<text class="n" transform="translate(715.55 544.50) scale(1.0 1.12)">Jenn</text>
<text class="n" transform="translate(696.65 577.24) scale(1.0 1.12)">Sydnie</text>
<text class="n" transform="translate(658.85 577.24) scale(1.0 1.12)">Art</text>
<text class="n" transform="translate(639.95 544.50) scale(1.0 1.12)">Deb</text>
<text class="m" transform="translate(677.75 540.25) scale(1.0 1.12)">Teacher</text>
<text class="m" transform="translate(677.75 548.75) scale(1.0 1.12)">Education</text>
<text class="n" transform="translate(149.90 609.56) scale(1.0 1.12)">Jen</text>
<text class="n" transform="translate(187.70 609.56) scale(1.0 1.12)">Cate</text>
<text class="n" transform="translate(206.60 642.30) scale(1.0 1.12)">Jing</text>
<text class="n" transform="translate(187.70 675.04) scale(1.0 1.12)">Jj</text>
<text class="n" transform="translate(149.90 675.04) scale(1.0 1.12)">Ekaterina</text>
<text class="n" transform="translate(131.00 642.30) scale(1.0 1.12)">Li</text>
<text class="m" transform="translate(168.80 638.05) scale(1.0 1.12)">Fine And</text>
<text class="m" transform="translate(168.80 646.55) scale(1.0 1.12)">Studio</text>
<text class="n" transform="translate(263.00 609.56) scale(1.0 1.12)">Xin</text>
<text class="n" transform="translate(300.80 609.56) scale(1.0 1.12)">Sri</text>
<text class="n" transform="translate(319.70 642.30) scale(1.0 1.12)">Prasad</text>
<text class="n" transform="translate(300.80 675.04) scale(1.0 1.12)">Abhilash</text>
<text class="n" transform="translate(263.00 675.04) scale(1.0 1.12)">Prashanth</text>
<text class="n" transform="translate(244.10 642.30) scale(1.0 1.12)">Abhijit</text>
<text class="m" transform="translate(281.90 638.05) scale(1.0 1.12)">Mechanical</text>
<text class="m" transform="translate(281.90 646.55) scale(1.0 1.12)">Engineering</text>
<text class="n" transform="translate(376.10 609.56) scale(1.0 1.12)">Jen</text>
<text class="n" transform="translate(413.90 609.56) scale(1.0 1.12)">Vandana</text>
<text class="n" transform="translate(432.80 642.30) scale(1.0 1.12)">Jenn</text>
<text class="n" transform="translate(413.90 675.04) scale(1.0 1.12)">Irina</text>
<text class="n" transform="translate(376.10 675.04) scale(1.0 1.12)">Svetlana</text>
<text class="n" transform="translate(357.20 642.30) scale(1.0 1.12)">Li</text>
<text class="m" transform="translate(395.00 638.05) scale(1.0 1.12)">English</text>
<text class="m" transform="translate(395.00 646.55) scale(1.0 1.12)">Language</text>
<text class="n" transform="translate(489.20 609.56) scale(1.0 1.12)">Olabisi</text>
<text class="n" transform="translate(527.00 609.56) scale(1.0 1.12)">Oxana</text>
<text class="n" transform="translate(545.90 642.30) scale(1.0 1.12)">Yuliya</text>
<text class="n" transform="translate(527.00 675.04) scale(1.0 1.12)">Marivic</text>
<text class="n" transform="translate(489.20 675.04) scale(1.0 1.12)">Zhanna</text>
<text class="n" transform="translate(470.30 642.30) scale(1.0 1.12)">Xin</text>
<text class="m" transform="translate(508.10 638.05) scale(1.0 1.12)">Registered</text>
<text class="m" transform="translate(508.10 646.55) scale(1.0 1.12)">Nursing</text>
<text class="n" transform="translate(602.30 609.56) scale(1.0 1.12)">Jing</text>
<text class="n" transform="translate(640.10 609.56) scale(1.0 1.12)">Xin</text>
<text class="n" transform="translate(659.00 642.30) scale(1.0 1.12)">Sushma</text>
<text class="n" transform="translate(640.10 675.04) scale(1.0 1.12)">Chen</text>
<text class="n" transform="translate(602.30 675.04) scale(1.0 1.12)">Nataliya</text>
<text class="n" transform="translate(583.40 642.30) scale(1.0 1.12)">Xiao</text>
<text class="m" transform="translate(621.20 642.30) scale(1.0 1.12)">Biology</text>
<text class="n" transform="translate(206.45 707.36) scale(1.0 1.12)">Jen</text>
<text class="n" transform="translate(244.25 707.36) scale(1.0 1.12)">Jing</text>
<text class="n" transform="translate(263.15 740.10) scale(1.0 1.12)">Jenn</text>
<text class="n" transform="translate(244.25 772.84) scale(1.0 1.12)">Zac</text>
<text class="n" transform="translate(206.45 772.84) scale(1.0 1.12)">Ying</text>
<text class="n" transform="translate(187.55 740.10) scale(1.0 1.12)">Zach</text>
<text class="m" transform="translate(225.35 735.85) scale(1.0 1.12)">Public</text>
<text class="m" transform="translate(225.35 744.35) scale(1.0 1.12)">Relations</text>
<text class="n" transform="translate(319.55 707.36) scale(1.0 1.12)">Amirah</text>
<text class="n" transform="translate(357.35 707.36) scale(1.0 1.12)">Wei</text>
<text class="n" transform="translate(376.25 740.10) scale(1.0 1.12)">Jen</text>
<text class="n" transform="translate(357.35 772.84) scale(1.0 1.12)">Syreeta</text>
<text class="n" transform="translate(319.55 772.84) scale(1.0 1.12)">Nate</text>
<text class="n" transform="translate(300.65 740.10) scale(1.0 1.12)">Tj</text>
<text class="m" transform="translate(338.45 740.10) scale(1.0 1.12)">Sociology</text>
<text class="n" transform="translate(432.65 707.36) scale(1.0 1.12)">Jing</text>
<text class="n" transform="translate(470.45 707.36) scale(1.0 1.12)">Yuan</text>
<text class="n" transform="translate(489.35 740.10) scale(1.0 1.12)">Xin</text>
<text class="n" transform="translate(470.45 772.84) scale(1.0 1.12)">Jie</text>
<text class="n" transform="translate(432.65 772.84) scale(1.0 1.12)">Ping</text>
<text class="n" transform="translate(413.75 740.10) scale(1.0 1.12)">Ye</text>
<text class="m" transform="translate(451.55 740.10) scale(1.0 1.12)">Economics</text>
<text class="n" transform="translate(545.75 707.36) scale(1.0 1.12)">Murali</text>
<text class="n" transform="translate(583.55 707.36) scale(1.0 1.12)">Prashanth</text>
<text class="n" transform="translate(602.45 740.10) scale(1.0 1.12)">Sri</text>
<text class="n" transform="translate(583.55 772.84) scale(1.0 1.12)">Sushma</text>
<text class="n" transform="translate(545.75 772.84) scale(1.0 1.12)">Vijaya</text>
<text class="n" transform="translate(526.85 740.10) scale(1.0 1.12)">Prasad</text>
<text class="m" transform="translate(564.65 740.10) scale(1.0 1.12)">Engineering</text>
</svg>
</body></html>
